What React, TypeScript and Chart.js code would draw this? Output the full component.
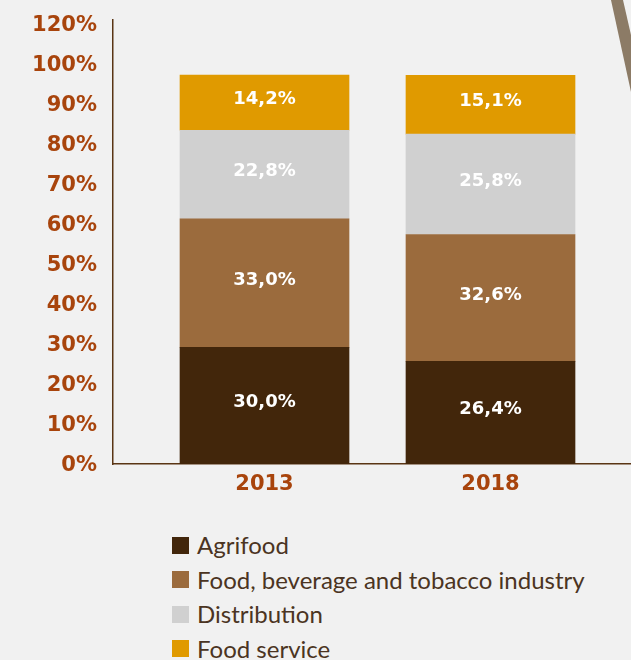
import React, { useEffect, useRef } from "react";
import { Chart, registerables } from "chart.js";

Chart.register(...registerables);

const categories = ["2013", "2018"];
const seriesNames = [
  "Agrifood",
  "Food, beverage and tobacco industry",
  "Distribution",
  "Food service",
];
const agrifood = [30.0, 26.4];
const foodIndustry = [33.0, 32.6];
const distribution = [22.8, 25.8];
const foodService = [14.2, 15.1];
const seriesColors = ["#42260b", "#9b6b3d", "#d0d0d0", "#e09a00"];
const yTickLabels = ["0%", "10%", "20%", "30%", "40%", "50%", "60%", "70%", "80%", "90%", "100%", "120%"];

const RUST = "#a8440c";
const AXIS = "#5a3514";

const fmt = (v: number) => v.toFixed(1).replace(".", ",") + "%";

export default function App() {
  const ref = useRef<HTMLCanvasElement | null>(null);

  useEffect(() => {
    if (!ref.current) return;
    const seriesValues = [agrifood, foodIndustry, distribution, foodService];
    const labelPlugin = {
      id: "segLabels",
      afterDatasetsDraw(chart: any) {
        const ctx = chart.ctx;
        ctx.save();
        ctx.font = 'bold 18px "DejaVu Sans"';
        ctx.fillStyle = "#ffffff";
        ctx.textAlign = "center";
        ctx.textBaseline = "middle";
        chart.data.datasets.forEach((ds: any, di: number) => {
          const meta = chart.getDatasetMeta(di);
          meta.data.forEach((bar: any, i: number) => {
            const { x, y, base } = bar.getProps(["x", "y", "base"], true);
            ctx.fillText(fmt(ds.data[i].y), x, (y + base) / 2 - 3);
          });
        });
        ctx.restore();
      },
    };

    const chart = new Chart(ref.current, {
      type: "bar",
      data: {
        datasets: seriesNames.map((name, si) => ({
          label: name,
          data: categories.map((_, ci) => ({ x: ci + 1, y: seriesValues[si][ci] })),
          backgroundColor: seriesColors[si],
          borderWidth: 0,
          barThickness: 169,
          stack: "s",
          yAxisID: "y",
        })),
      },
      options: {
        animation: false,
        responsive: false,
        maintainAspectRatio: false,
        layout: { padding: { top: 20, right: 0, left: 0, bottom: 0 } },
        plugins: {
          legend: { display: false },
          tooltip: { enabled: false },
        },
        scales: {
          x: {
            type: "linear",
            stacked: true,
            offset: false,
            bounds: "ticks",
            min: 0.3296,
            max: 2.6217,
            grid: { display: false, drawTicks: false, offset: false },
            border: { display: true, color: AXIS, width: 1.5 },
            afterBuildTicks: (s: any) => {
              s.ticks = categories.map((_, i) => ({ value: i + 1 }));
            },
            afterFit: (s: any) => {
              s.height = 36;
              s.paddingLeft = 0;
              s.paddingRight = 0;
            },
            ticks: {
              autoSkip: false,
              maxRotation: 0,
              padding: 8,
              color: RUST,
              font: { family: "DejaVu Sans", size: 21, weight: "bold" },
              callback: (v: any) => categories[Math.round(v) - 1] ?? "",
            },
          },
          y: {
            type: "linear",
            stacked: true,
            display: false,
            min: 0,
            max: 114.14,
          },
          yL: {
            type: "linear",
            position: "left",
            min: 0,
            max: 111,
            grid: { display: false, drawTicks: false },
            border: { display: true, color: AXIS, width: 1.5 },
            afterBuildTicks: (s: any) => {
              s.ticks = yTickLabels.map((_, i) => ({ value: i * 10 }));
            },
            afterFit: (s: any) => {
              s.width = 113;
              s.paddingTop = 0;
              s.paddingBottom = 0;
            },
            ticks: {
              autoSkip: false,
              padding: 16,
              labelOffset: 2,
              color: RUST,
              font: { family: "DejaVu Sans", size: 21, weight: "bold" },
              callback: (v: any) => yTickLabels[Math.round(v / 10)] ?? "",
            },
          },
        },
      },
      plugins: [labelPlugin],
    } as any);
    return () => chart.destroy();
  }, []);

  return (
    <div
      style={{
        position: "absolute",
        left: 0,
        top: 0,
        width: 631,
        height: 660,
        background: "#f1f1f1",
        overflow: "hidden",
      }}
    >
      <div
        style={{
          position: "absolute",
          left: 0,
          top: 0,
          width: 631,
          height: 120,
          background: "#8c7b66",
          clipPath: "polygon(611px 0, 623px 0, 631px 35px, 631px 92px)",
        }}
      />
      <canvas ref={ref} width={631} height={500} style={{ position: "absolute", left: 0, top: 0 }} />
      <div style={{ position: "absolute", left: 172, top: 528 }}>
        {seriesNames.map((n, i) => (
          <div key={n} style={{ display: "flex", alignItems: "center", height: 34.5 }}>
            <div style={{ width: 17, height: 17, background: seriesColors[i], marginRight: 8 }} />
            <span
              style={{
                fontFamily: "Lato",
                fontSize: 24,
                fontWeight: 400,
                color: "#4b3422",
                lineHeight: "34px",
              }}
            >
              {n}
            </span>
          </div>
        ))}
      </div>
    </div>
  );
}
